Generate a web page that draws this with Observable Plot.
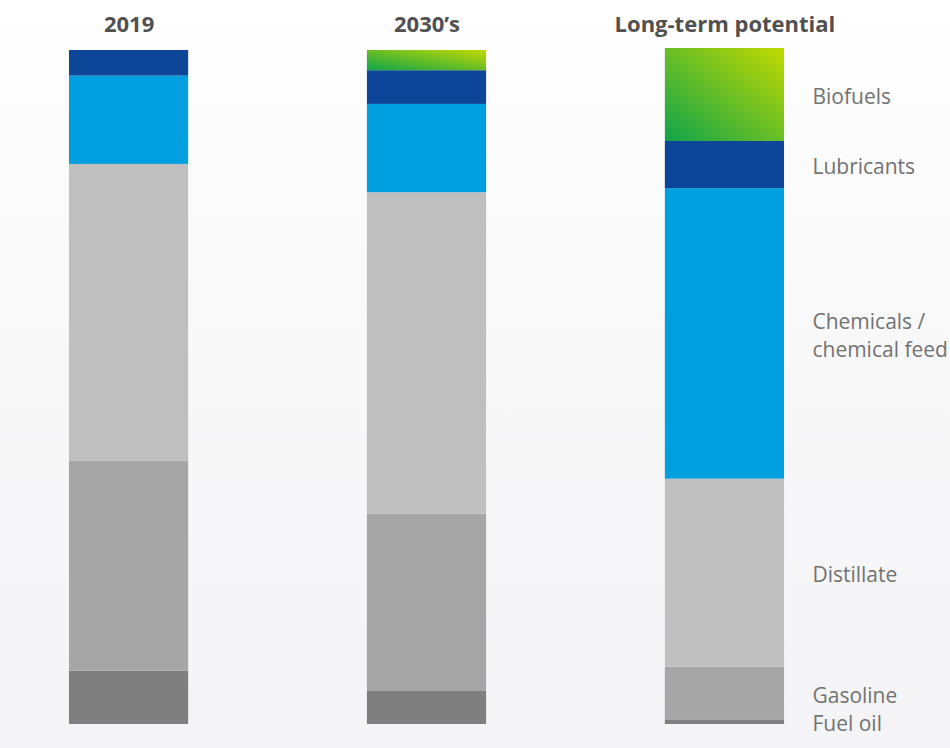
<!DOCTYPE html>
<html><head><meta charset="utf-8">
<script src="https://cdn.jsdelivr.net/npm/d3@7"></script>
<script src="https://cdn.jsdelivr.net/npm/@observablehq/plot@0.6"></script>
<style>
html,body{margin:0;padding:0;}
body{width:950px;height:748px;overflow:hidden;background:linear-gradient(#ffffff 0%, #f9f9fa 35%, #f4f4f6 100%);}
</style></head><body><div id="chart"></div>
<script>
const categories = ["2019", "2030’s", "Long-term potential"];
const segments = ["Fuel oil", "Gasoline", "Distillate", "Chemicals", "Lubricants", "Biofuels"];
const segmentLabels = ["Fuel oil", "Gasoline", "Distillate", "Chemicals /\nchemical feed", "Lubricants", "Biofuels"];
const values2019 = [7.9, 31.2, 44.0, 13.1, 3.8, 0];
const values2030s = [4.9, 26.3, 47.7, 13.1, 5.0, 3.0];
const valuesLongTerm = [0.6, 7.9, 27.9, 43.1, 7.0, 13.8];
const segmentColors = ["#7f7f7f", "#a6a6a6", "#bfbfbf", "#009fdf", "#0d4598", "url(#biofuelGradient)"];

const series = [values2019, values2030s, valuesLongTerm];
const rows = categories.flatMap((c, i) => segments.map((s, j) => ({category: c, segment: s, value: series[i][j]})));
const labelRows = rows.filter(d => d.category === categories[2]);

const plot = Plot.plot({
  width: 950, height: 748,
  marginTop: 50, marginBottom: 24, marginLeft: 0, marginRight: 97,
  style: {background: "transparent", overflow: "visible", fontFamily: "Open Sans, sans-serif"},
  x: {type: "band", domain: categories, paddingInner: 0.6, paddingOuter: 0.2315, round: false},
  y: {domain: [0, 100], axis: null},
  color: {type: "ordinal", domain: segments, range: segmentColors},
  marks: [
    Plot.barY(rows, {x: "category", y: "value", fill: "segment"}),
    Plot.axisX({anchor: "top", tickSize: 0, tickPadding: 19, fontSize: 22, fontWeight: 700, fill: "#505050", label: null}),
    Plot.text(labelRows, Plot.stackY({
      x: "category", y: "value", z: "segment",
      text: d => segmentLabels[segments.indexOf(d.segment)],
      textAnchor: "start", dx: 87.5, fontSize: 21, fill: "#727272", lineHeight: 1.33
    }))
  ]
});

const defs = d3.select(plot).insert("defs", ":first-child");
const grad = defs.append("linearGradient").attr("id", "biofuelGradient")
  .attr("x1", 0).attr("y1", 1).attr("x2", 1).attr("y2", 0);
grad.append("stop").attr("offset", "0%").attr("stop-color", "#0fa44b");
grad.append("stop").attr("offset", "100%").attr("stop-color", "#c3d900");

document.getElementById("chart").appendChild(plot);
</script></body></html>
